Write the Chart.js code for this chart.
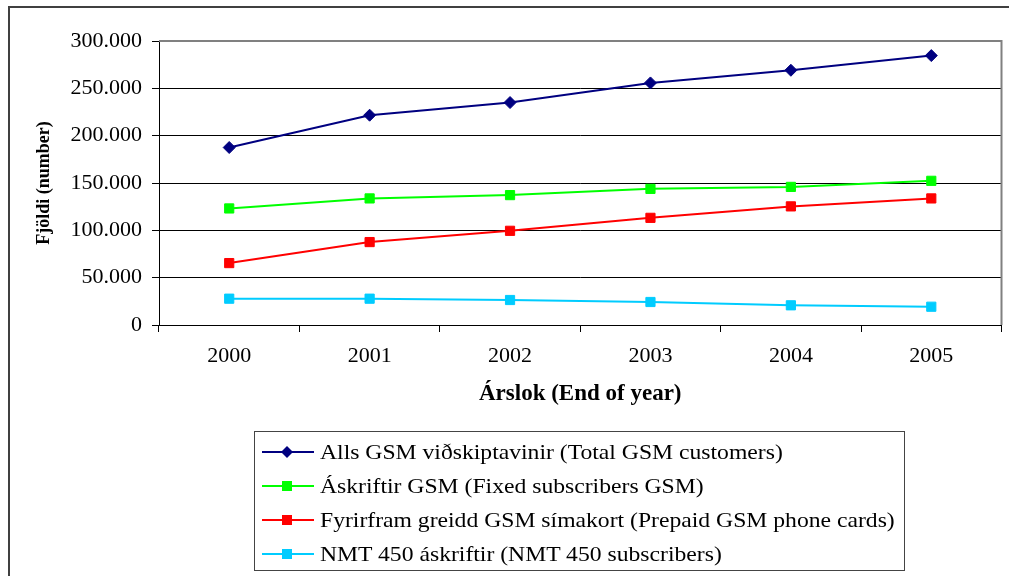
<!DOCTYPE html>
<html>
<head>
<meta charset="utf-8">
<script src="https://cdn.jsdelivr.net/npm/chart.js@4.4.1/dist/chart.umd.min.js"></script>
<style>
  html, body { margin: 0; padding: 0; background: #fff; overflow: hidden; }
  #frame {
    position: absolute; left: 8px; top: 6px; width: 1100px; height: 700px;
    border-left: 2px solid #404040; border-top: 2px solid #404040;
  }
  #wrap { position: absolute; left: 0; top: 0; width: 1009px; height: 576px; }
  #legend {
    position: absolute; left: 254px; top: 431px; width: 651px; height: 140px;
    border: 1px solid #444; box-sizing: border-box; padding: 3px 0 0 7px;
    font-family: "Liberation Serif", "Times New Roman", serif; font-size: 22px; color: #000;
  }
  .row { display: flex; align-items: center; height: 34px; white-space: nowrap; }
  .row svg { margin-right: 6px; flex: none; }
  .row span { display: inline-block; transform: scaleX(1.075); transform-origin: left center; }
</style>
</head>
<body>
<div id="frame"></div>
<div id="wrap"><canvas id="gsmChart" width="1009" height="576"></canvas></div>
<div id="legend"></div>
<script>
// Gögn lesin af myndinni
const years = ["2000", "2001", "2002", "2003", "2004", "2005"];
const total = [187500, 221600, 235000, 255700, 269100, 284600];
const fixedGsm = [123100, 133700, 137200, 143800, 145900, 152300];
const prepaid = [65400, 87600, 99500, 113200, 125300, 133700];
const nmt = [27800, 27800, 26400, 24300, 20800, 19300];

const seriesNames = [
  "Alls GSM viðskiptavinir (Total GSM customers)",
  "Áskriftir GSM (Fixed subscribers GSM)",
  "Fyrirfram greidd GSM símakort (Prepaid GSM phone cards)",
  "NMT 450 áskriftir (NMT 450 subscribers)",
];
const colors = ["#000080", "#00ff00", "#ff0000", "#00ccff"];

const serif = "'Liberation Serif', 'Times New Roman', serif";

function makeSet(i, data, style) {
  return {
    label: seriesNames[i],
    data: data,
    borderColor: colors[i],
    backgroundColor: colors[i],
    borderWidth: 2,
    pointStyle: style,
    pointRadius: style === "rectRot" ? 6 : 6.5,
    pointBorderWidth: 1,
    tension: 0,
  };
}

// rammi um teiknisvæðið (grár)
const plotBorder = {
  id: "plotBorder",
  beforeDatasetsDraw(chart) {
    const { ctx, chartArea: a } = chart;
    ctx.save();
    ctx.strokeStyle = "#808080";
    ctx.lineWidth = 2;
    ctx.beginPath();
    ctx.moveTo(a.left, a.top);
    ctx.lineTo(a.right, a.top);
    ctx.lineTo(a.right, a.bottom);
    ctx.stroke();
    ctx.restore();
  },
};

const chart = new Chart(document.getElementById("gsmChart"), {
  type: "line",
  data: {
    labels: years,
    datasets: [
      makeSet(0, total, "rectRot"),
      makeSet(1, fixedGsm, "rect"),
      makeSet(2, prepaid, "rect"),
      makeSet(3, nmt, "rect"),
    ],
  },
  options: {
    responsive: false,
    animation: false,
    layout: {
      padding: { top: 41, right: 6, bottom: 166, left: 0 },
    },
    plugins: {
      legend: { display: false },
      tooltip: { enabled: false },
    },
    scales: {
      x: {
        offset: true,
        grid: {
          offset: true,
          drawOnChartArea: false,
          drawTicks: true,
          tickLength: 7,
          color: "#000",
        },
        border: { display: true, color: "#000", width: 1 },
        ticks: {
          color: "#000",
          padding: 11,
          maxRotation: 0,
          font: { family: serif, size: 22 },
        },
        title: {
          display: true,
          text: "Árslok (End of year)",
          color: "#000",
          padding: { top: 0, bottom: 2 },
          font: { family: serif, size: 23, weight: "bold" },
        },
        afterFit: (scale) => {
          scale.height = 85;
        },
      },
      y: {
        min: 0,
        max: 300000,
        grid: {
          color: "#000",
          lineWidth: 1,
          tickLength: 7,
        },
        border: { display: true, color: "#000", width: 1 },
        ticks: {
          stepSize: 50000,
          color: "#000",
          padding: 10,
          font: { family: serif, size: 22 },
          callback: (v) => String(v).replace(/\B(?=(\d{3})+(?!\d))/g, "."),
        },
        title: {
          display: true,
          text: "Fjöldi (number)",
          color: "#000",
          padding: { top: 34, bottom: 0 },
          font: { family: serif, size: 18, weight: "bold" },
        },
        afterFit: (scale) => {
          scale.width = 159;
        },
      },
    },
  },
  plugins: [plotBorder],
});

// skýringar (legend) sem HTML
const legendEl = document.getElementById("legend");
chart.data.datasets.forEach((ds) => {
  const row = document.createElement("div");
  row.className = "row";
  const marker = ds.pointStyle === "rectRot"
    ? `<polygon points="25,0 31,6 25,12 19,6" fill="${ds.borderColor}"/>`
    : `<rect x="20" y="1" width="10" height="10" fill="${ds.borderColor}"/>`;
  row.innerHTML =
    `<svg width="52" height="12"><line x1="0" y1="6" x2="52" y2="6" stroke="${ds.borderColor}" stroke-width="2"/>${marker}</svg>` +
    `<span>${ds.label}</span>`;
  legendEl.appendChild(row);
});
</script>
</body>
</html>
